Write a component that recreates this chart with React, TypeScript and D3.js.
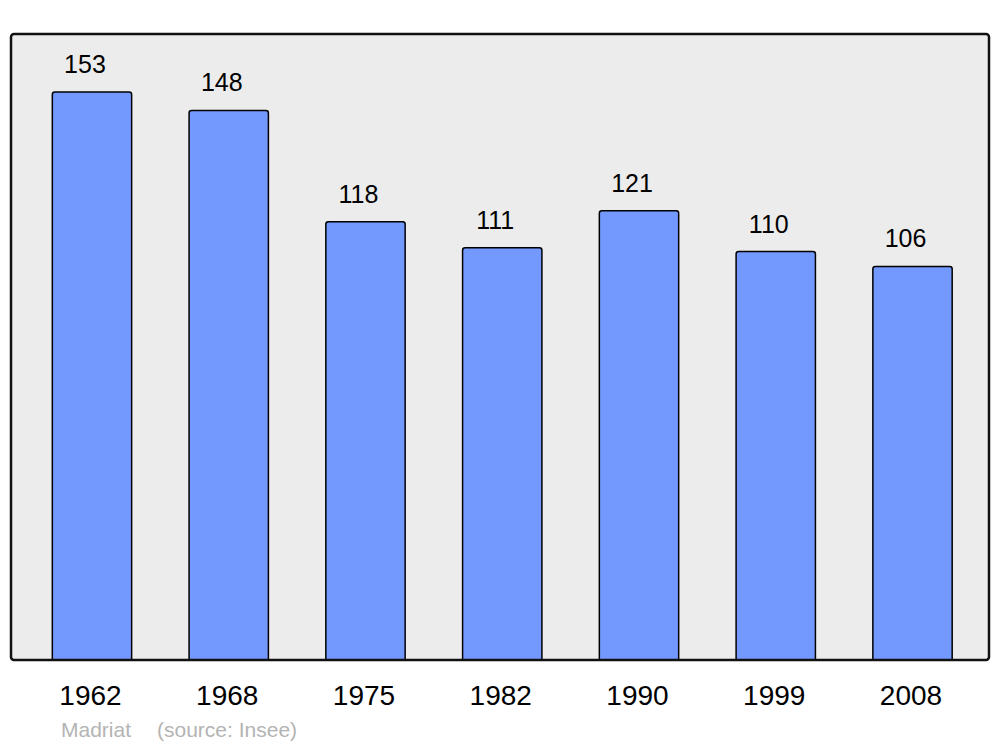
import React from "react";
import * as d3 from "d3";

const years = ["1962", "1968", "1975", "1982", "1990", "1999", "2008"];
const population = [153, 148, 118, 111, 121, 110, 106];
const commune = "Madriat";
const sourceLabel = "(source: Insee)";

export default function App() {
  const W = 1000, H = 747;
  const panel = { x: 11, y: 34, w: 978, h: 626 };
  const x = d3.scaleBand<string>().domain(years).range([23.6, 980.9]).paddingInner(0.42).paddingOuter(0.21);
  const y = d3.scaleLinear().domain([0, 168.6]).range([660, 34]);
  const font = "'Liberation Sans', Arial, sans-serif";
  const barPath = (x0: number, y0: number, w: number, h: number, r: number) =>
    `M${x0},${y0 + h}V${y0 + r}Q${x0},${y0} ${x0 + r},${y0}H${x0 + w - r}Q${x0 + w},${y0} ${x0 + w},${y0 + r}V${y0 + h}Z`;
  return (
    <svg width={W} height={H} style={{ position: "absolute", left: 0, top: 0, background: "#fff" }}>
      <rect x={panel.x} y={panel.y} width={panel.w} height={panel.h} rx={3} fill="#ececec" stroke="none" />
      {years.map((yr, i) => {
        const bx = x(yr)!;
        const bw = x.bandwidth();
        const top = y(population[i]);
        return (
          <g key={yr}>
            <path d={barPath(bx, top, bw, y(0) - top, 2.5)} fill="#7399ff" stroke="#000" strokeWidth={1.5} />
            <text x={bx + bw / 2 - 7} y={top - 19} textAnchor="middle" fontFamily={font} fontSize={25} fill="#000">
              {population[i]}
            </text>
            <text x={bx + bw / 2 - 1.5} y={705} textAnchor="middle" fontFamily={font} fontSize={28} fill="#000">
              {yr}
            </text>
          </g>
        );
      })}
      <rect x={panel.x} y={panel.y} width={panel.w} height={panel.h} rx={3} fill="none" stroke="#111" strokeWidth={2.5} />
      <text x={61} y={737} fontFamily={font} fontSize={21} fill="#b4b4b4">{commune}</text>
      <text x={157} y={737} fontFamily={font} fontSize={21} fill="#b4b4b4">{sourceLabel}</text>
    </svg>
  );
}
